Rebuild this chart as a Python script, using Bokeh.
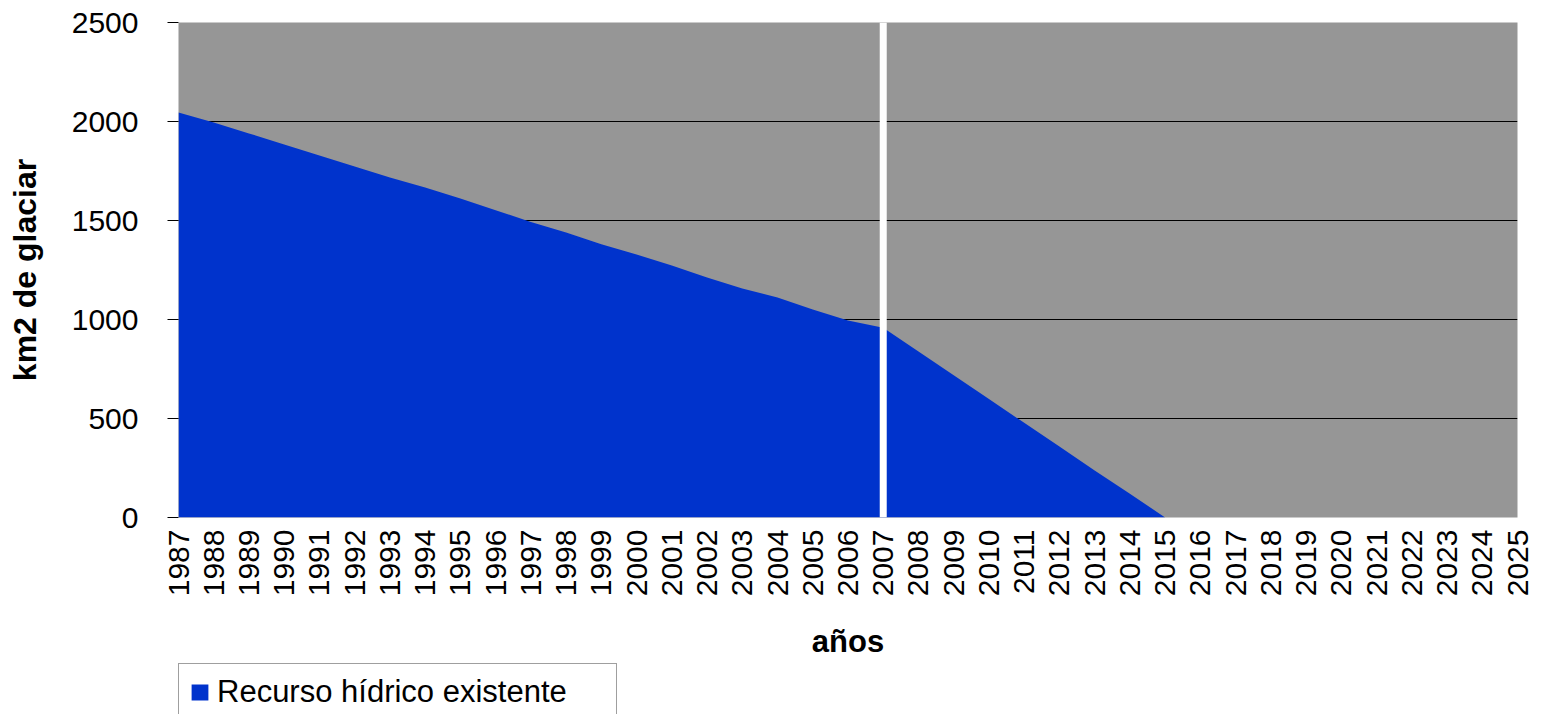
import math
from bokeh.plotting import figure
from bokeh.layouts import column
from bokeh.models import Range1d, FixedTicker, Span, Legend, LegendItem
from bokeh.embed import file_html
from bokeh.resources import INLINE

# ---- data ----
all_years = [1987, 1988, 1989, 1990, 1991, 1992, 1993, 1994, 1995, 1996,
             1997, 1998, 1999, 2000, 2001, 2002, 2003, 2004, 2005, 2006,
             2007, 2008, 2009, 2010, 2011, 2012, 2013, 2014, 2015, 2016,
             2017, 2018, 2019, 2020, 2021, 2022, 2023, 2024, 2025]
tick_labels = [str(y) for y in all_years]

area_years = [1987, 1988, 1989, 1990, 1991, 1992, 1993, 1994, 1995, 1996,
              1997, 1998, 1999, 2000, 2001, 2002, 2003, 2004, 2005, 2006,
              2007, 2008, 2009, 2010, 2011, 2012, 2013, 2014, 2015]
area_values = [2045, 1995, 1940, 1884, 1828, 1773, 1717, 1667, 1611, 1552,
               1492, 1440, 1380, 1328, 1273, 1212, 1157, 1111, 1050, 995,
               958, 838, 718, 598, 478, 358, 238, 120, 0]
y_ticks = [0, 500, 1000, 1500, 2000, 2500]
grid_ticks = [500, 1000, 1500, 2000, 2500]
marker_year = 2007
series_name = "Recurso hídrico existente"

FONT = "Liberation Sans"
BLUE = "#0033CC"

p = figure(width=1543, height=663, output_backend="svg", toolbar_location=None,
           x_range=Range1d(1987, 2025), y_range=Range1d(0, 2500),
           min_border_left=178, min_border_right=26, min_border_top=22,
           min_border_bottom=146)
p.background_fill_color = "#969696"
p.border_fill_color = "white"
p.outline_line_color = None

p.varea(x=area_years, y1=0, y2=area_values, fill_color=BLUE)

p.add_layout(Span(location=marker_year, dimension="height",
                  line_color="white", line_width=7))

# grids
p.xgrid.visible = False
p.ygrid.ticker = FixedTicker(ticks=grid_ticks)
p.ygrid.grid_line_color = "black"
p.ygrid.grid_line_width = 1

# y axis
ya = p.yaxis[0]
ya.ticker = FixedTicker(ticks=y_ticks)
ya.axis_line_color = None
ya.major_tick_line_color = "black"
ya.major_tick_out = 11
ya.major_tick_in = 0
ya.minor_tick_line_color = None
ya.major_label_standoff = 29
ya.major_label_text_font = FONT
ya.major_label_text_font_size = "30px"
ya.major_label_text_color = "black"
ya.axis_label = "km2 de glaciar"
ya.axis_label_text_font = FONT
ya.axis_label_text_font_size = "32px"
ya.axis_label_text_font_style = "bold"
ya.axis_label_text_color = "black"
ya.axis_label_standoff = 26

# x axis
xa = p.xaxis[0]
xa.ticker = FixedTicker(ticks=all_years)
xa.major_label_overrides = {y: s for y, s in zip(all_years, tick_labels)}
xa.major_label_orientation = math.pi / 2
xa.axis_line_color = None
xa.major_tick_line_color = None
xa.minor_tick_line_color = None
xa.major_tick_out = 0
xa.major_tick_in = 0
xa.major_label_standoff = 12
xa.major_label_text_font = FONT
xa.major_label_text_font_size = "30px"
xa.major_label_text_color = "black"
xa.axis_label = "años"
xa.axis_label_text_font = FONT
xa.axis_label_text_font_size = "31px"
xa.axis_label_text_font_style = "bold"
xa.axis_label_text_color = "black"
xa.axis_label_standoff = 25

# legend strip below the chart
q = figure(width=1543, height=51, output_backend="svg", toolbar_location=None,
           x_range=Range1d(0, 1), y_range=Range1d(0, 1),
           min_border=0, x_axis_type=None, y_axis_type=None)
q.outline_line_color = None
q.xgrid.visible = False
q.ygrid.visible = False
proxy = q.varea(x=area_years, y1=0, y2=area_values, fill_color=BLUE)

lg = Legend(items=[LegendItem(label=series_name, renderers=[proxy])],
            location=(0, -7), orientation="vertical")
lg.padding = 10
lg.margin = 0
lg.spacing = 0
lg.glyph_width = 21
lg.glyph_height = 20
lg.label_height = 36
lg.label_width = 389
lg.label_standoff = 7
lg.label_text_font = FONT
lg.label_text_font_size = "31px"
lg.label_text_color = "black"
lg.border_line_color = "#404040"
lg.border_line_width = 1
lg.background_fill_color = "white"
lg.background_fill_alpha = 1.0
q.add_layout(lg, "center")

layout = column(p, q, spacing=0)
open("out.html", "w").write(file_html(layout, INLINE))
